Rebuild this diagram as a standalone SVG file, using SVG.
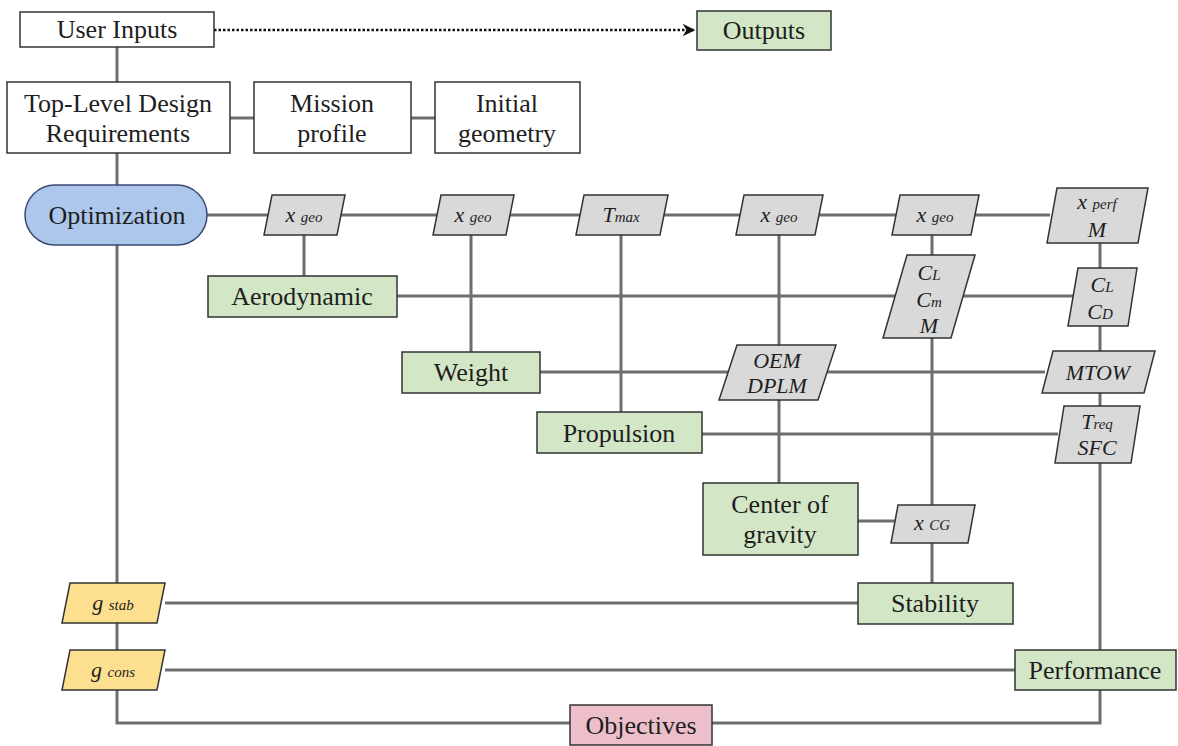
<svg xmlns="http://www.w3.org/2000/svg" width="1178" height="746" viewBox="0 0 1178 746">
<defs>
<style>
.box{stroke:#333;stroke-width:1.5}
.w{fill:#fff}
.g{fill:#d3e7c6}
.gr{fill:#d9d9d9}
.y{fill:#fde08f}
.p{fill:#ecbfcb}
.b{fill:#adc6ec;stroke:#3a4a70;stroke-width:1.5}
.t{font-family:'Liberation Serif','DejaVu Serif',serif;font-size:26px;fill:#1e1e1e;text-anchor:middle}
.i{font-family:'Liberation Serif','DejaVu Serif',serif;font-style:italic;font-size:22px;fill:#1e1e1e;text-anchor:middle}
.s{font-size:15px}
.c{stroke:#6e6e6e;stroke-width:3;fill:none}
</style>
<marker id="ah" viewBox="0 0 10 10" refX="9" refY="5" markerWidth="5" markerHeight="5" orient="auto">
<path d="M0,0 L10,5 L0,10 L3,5 Z" fill="#111"/>
</marker>
</defs>
<rect width="1178" height="746" fill="#fff"/>
<g id="connectors">
<line x1="214" y1="30" x2="694" y2="30" stroke="#111" stroke-width="2.5" stroke-dasharray="2.5 2" marker-end="url(#ah)"/>
<path class="c" d="M117,47 V82 M230,118 H254 M411,118 H435 M117,153 V185 M207,215 H1050 M304,235 V276 M471,235 V352 M621,235 V412 M779,235 V483 M932,235 V583 M1100,243 V650 M397,296 H1073 M540,372 H1045 M702,434 H1058 M858,521 H895 M165,603 H858 M165,670 H1015 M117,245 V723 H570 M712,723 H1100 V690"/>
</g>
<g id="user-inputs"><rect class="box w" x="20" y="12" width="194" height="35"/><text class="t" x="117" y="38">User Inputs</text></g>
<g id="outputs"><rect class="box g" x="697" y="11" width="134" height="39"/><text class="t" x="764" y="39">Outputs</text></g>
<g id="tldr"><rect class="box w" x="7" y="82" width="223" height="71"/><text class="t" x="118" y="112">Top-Level Design</text><text class="t" x="118" y="142">Requirements</text></g>
<g id="mission"><rect class="box w" x="254" y="82" width="157" height="71"/><text class="t" x="332" y="112">Mission</text><text class="t" x="332" y="142">profile</text></g>
<g id="initial"><rect class="box w" x="435" y="82" width="145" height="71"/><text class="t" x="507" y="112">Initial</text><text class="t" x="507" y="142">geometry</text></g>
<g id="optimization"><rect class="b" x="25" y="185" width="182" height="60" rx="30"/><text class="t" x="117" y="224">Optimization</text></g>
<g id="xgeo1"><polygon class="box gr" points="272,195 345,195 337,235 264,235"/><text class="i" x="304" y="222">x <tspan class="s">geo</tspan></text></g>
<g id="xgeo2"><polygon class="box gr" points="441,195 514,195 506,235 433,235"/><text class="i" x="473" y="222">x <tspan class="s">geo</tspan></text></g>
<g id="tmax"><polygon class="box gr" points="584,195 668,195 660,235 576,235"/><text class="i" x="621" y="222">T<tspan class="s">max</tspan></text></g>
<g id="xgeo3"><polygon class="box gr" points="744,195 823,195 815,235 736,235"/><text class="i" x="779" y="222">x <tspan class="s">geo</tspan></text></g>
<g id="xgeo4"><polygon class="box gr" points="900,195 979,195 971,235 892,235"/><text class="i" x="935" y="222">x <tspan class="s">geo</tspan></text></g>
<g id="xperf"><polygon class="box gr" points="1057,188 1148,188 1138,243 1047,243"/><text class="i" x="1097" y="209">x <tspan class="s">perf</tspan></text><text class="i" x="1097" y="237">M</text></g>
<g id="aero"><rect class="box g" x="208" y="276" width="189" height="41"/><text class="t" x="302" y="305">Aerodynamic</text></g>
<g id="clcmm"><polygon class="box gr" points="907,255 975,255 951,338 883,338"/><text class="i" x="929" y="280">C<tspan class="s">L</tspan></text><text class="i" x="929" y="307">C<tspan class="s">m</tspan></text><text class="i" x="929" y="333">M</text></g>
<g id="clcd"><polygon class="box gr" points="1078,268 1137,268 1128,326 1068,326"/><text class="i" x="1102" y="292">C<tspan class="s">L</tspan></text><text class="i" x="1100" y="319">C<tspan class="s">D</tspan></text></g>
<g id="weight"><rect class="box g" x="402" y="352" width="138" height="41"/><text class="t" x="471" y="381">Weight</text></g>
<g id="oem"><polygon class="box gr" points="737,345 836,345 818,400 719,400"/><text class="i" x="777" y="368">OEM</text><text class="i" x="777" y="393">DPLM</text></g>
<g id="mtow"><polygon class="box gr" points="1053,351 1155,351 1144,393 1042,393"/><text class="i" x="1098" y="380">MTOW</text></g>
<g id="propulsion"><rect class="box g" x="537" y="412" width="165" height="41"/><text class="t" x="619" y="442">Propulsion</text></g>
<g id="treq"><polygon class="box gr" points="1064,406 1140,406 1131,463 1055,463"/><text class="i" x="1097" y="429">T<tspan class="s">req</tspan></text><text class="i" x="1097" y="455">SFC</text></g>
<g id="cog"><rect class="box g" x="703" y="483" width="155" height="72"/><text class="t" x="780" y="513">Center of</text><text class="t" x="780" y="543">gravity</text></g>
<g id="xcg"><polygon class="box gr" points="898,505 975,505 968,543 891,543"/><text class="i" x="932" y="530">x <tspan class="s">CG</tspan></text></g>
<g id="stability"><rect class="box g" x="858" y="583" width="155" height="41"/><text class="t" x="935" y="612">Stability</text></g>
<g id="gstab"><polygon class="box y" points="70,583 165,583 157,623 62,623"/><text class="i" x="113" y="610">g <tspan class="s">stab</tspan></text></g>
<g id="gcons"><polygon class="box y" points="70,650 165,650 157,690 62,690"/><text class="i" x="113" y="677">g <tspan class="s">cons</tspan></text></g>
<g id="performance"><rect class="box g" x="1015" y="650" width="161" height="40"/><text class="t" x="1095" y="679">Performance</text></g>
<g id="objectives"><rect class="box p" x="570" y="705" width="142" height="40"/><text class="t" x="641" y="734">Objectives</text></g>
</svg>
